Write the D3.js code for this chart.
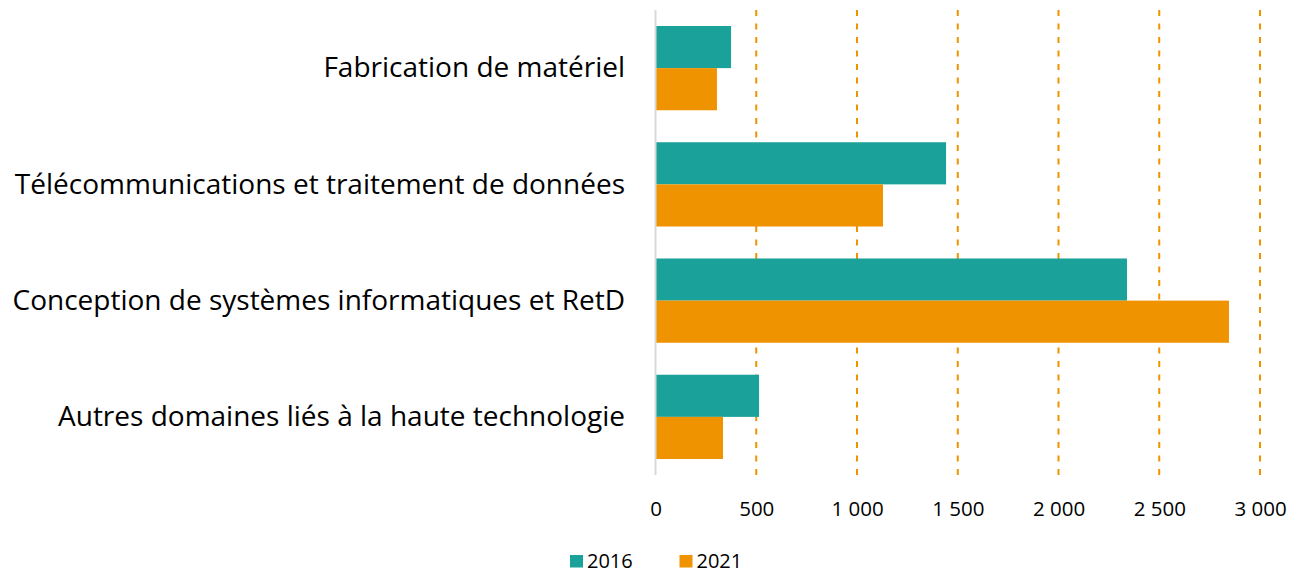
<!DOCTYPE html>
<html><head><meta charset="utf-8">
<script src="https://cdn.jsdelivr.net/npm/d3@7"></script>
<style>body{margin:0;background:#fff}svg{display:block}</style>
</head><body>
<svg id="c" width="1291" height="573"></svg>
<script>
const categories = ["Fabrication de matériel","Télécommunications et traitement de données","Conception de systèmes informatiques et RetD","Autres domaines liés à la haute technologie"];
const series = ["2016","2021"];
const values2016 = [375, 1442, 2340, 514];
const values2021 = [305, 1129, 2846, 335];
const tickValues = [0,500,1000,1500,2000,2500,3000];
const colors = ["#1aa19a","#f09300"];

const svg = d3.select("#c");
const font = "'Open Sans', sans-serif";
const x = d3.scaleLinear().domain([0,3000]).range([655.5,1260]);
const y = d3.scaleBand().domain(categories).range([10,475]).paddingInner(0.275).paddingOuter(0.1375);
const y1 = d3.scaleBand().domain(series).range([0,y.bandwidth()]);
const fmt = v => d3.format(",")(v).replace(/,/g," ");

// gridlines
svg.append("g").selectAll("line").data(tickValues.filter(d=>d>0)).join("line")
  .attr("x1",d=>x(d)).attr("x2",d=>x(d)).attr("y1",10).attr("y2",475)
  .attr("stroke","#f09300").attr("stroke-width",2).attr("stroke-dasharray","6,7.5");

// bars
const data = categories.map((c,i)=>({c, vals:[values2016[i],values2021[i]]}));
const g = svg.append("g").selectAll("g").data(data).join("g").attr("transform",d=>`translate(0,${y(d.c)})`);
g.selectAll("rect").data(d=>d.vals.map((v,j)=>({s:series[j],v,j}))).join("rect")
  .attr("x",x(0)).attr("y",d=>y1(d.s)).attr("height",y1.bandwidth())
  .attr("width",d=>x(d.v)-x(0)).attr("fill",d=>colors[d.j]);

// vertical axis line
svg.append("line").attr("x1",x(0)).attr("x2",x(0)).attr("y1",10).attr("y2",475)
  .attr("stroke","#d9d9d9").attr("stroke-width",2);

// category labels
svg.append("g").selectAll("text").data(categories).join("text")
  .attr("x",625).attr("y",d=>y(d)+y.bandwidth()/2).attr("dy","0.33em")
  .attr("text-anchor","end").attr("font-family",font).attr("font-size",28).attr("fill","#000")
  .text(d=>d);

// x axis tick labels
const xa = d3.axisBottom(x).tickValues(tickValues).tickFormat(fmt).tickSize(0);
const ax = svg.append("g").attr("transform","translate(0,498.5)").call(xa);
ax.select(".domain").remove();
ax.selectAll("text").attr("font-family",font).attr("font-size",20.5).attr("fill","#000");

// legend
const leg = svg.append("g").selectAll("g").data(series).join("g")
  .attr("transform",(d,i)=>`translate(${570+i*109.5},555)`);
leg.append("rect").attr("width",13).attr("height",12.5).attr("fill",(d,i)=>colors[i]);
leg.append("text").attr("x",17).attr("y",12.5)
  .attr("font-family",font).attr("font-size",20).attr("fill","#000").text(d=>d);
</script>
</body></html>
